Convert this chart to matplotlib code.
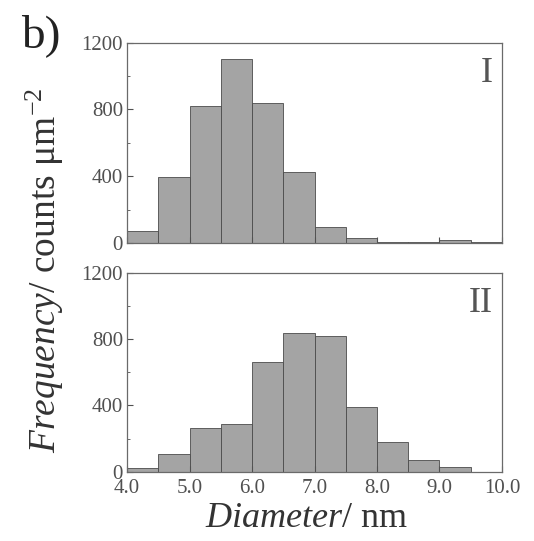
import matplotlib
matplotlib.use("Agg")
import matplotlib.pyplot as plt
import numpy as np
from matplotlib.ticker import MultipleLocator

# histogram bins (nm) and counts per um^2
bin_edges = [4.0, 4.5, 5.0, 5.5, 6.0, 6.5, 7.0, 7.5, 8.0, 8.5, 9.0, 9.5, 10.0]
counts_I = [72, 393, 819, 1100, 839, 428, 97, 27, 8, 3, 15, 5]
counts_II = [20, 107, 262, 289, 661, 835, 820, 392, 179, 69, 27, 0]
panel_labels = ["I", "II"]
x_ticks = [4.0, 5.0, 6.0, 7.0, 8.0, 9.0, 10.0]
y_ticks = [0, 400, 800, 1200]

plt.rcParams["font.family"] = ["Liberation Serif", "DejaVu Serif"]
plt.rcParams["mathtext.fontset"] = "custom"
plt.rcParams["mathtext.rm"] = "Liberation Serif"
plt.rcParams["mathtext.it"] = "Liberation Serif:italic"

fig = plt.figure(figsize=(5.34, 5.41), dpi=100)
ax1 = fig.add_axes([0.238, 0.551, 0.702, 0.370])
ax2 = fig.add_axes([0.238, 0.128, 0.702, 0.368])

left = np.array(bin_edges[:-1])
widths = np.diff(bin_edges)
tick_col = "#505050"

for ax, counts, lab in zip([ax1, ax2], [counts_I, counts_II], panel_labels):
    ax.bar(left, counts, width=widths, align="edge", color="#a4a4a4",
           edgecolor="#4a4a4a", linewidth=0.6)
    ax.set_xlim(4.0, 10.0)
    ax.set_ylim(0, 1200)
    ax.set_yticks(y_ticks)
    ax.yaxis.set_minor_locator(MultipleLocator(200))
    ax.set_xticks(x_ticks)
    ax.tick_params(direction="in", labelsize=15, colors=tick_col,
                   length=4, width=0.8, pad=3)
    ax.tick_params(which="minor", direction="in", length=2.5, width=0.6,
                   colors=tick_col)
    for sp in ax.spines.values():
        sp.set_color("#6a6a6a")
        sp.set_linewidth(0.9)
    ax.text(0.975, 0.93, lab, transform=ax.transAxes, ha="right", va="top",
            fontsize=26, color="#555555")

ax1.tick_params(labelbottom=False)
ax2.set_xticklabels([f"{v:.1f}" for v in x_ticks])
ax2.tick_params(axis="x", pad=5)

fig.text(0.084, 0.50, r"$\mathit{Frequency/}$ counts $\mathrm{\mu m}^{-2}$",
         rotation=90, ha="center", va="center", fontsize=27, color="#333333")
fig.text(0.575, 0.042, r"$\mathit{Diameter/}$ nm", ha="center", va="center",
         fontsize=26, color="#333333")
fig.text(0.04, 0.935, "b)", ha="left", va="center", fontsize=34,
         color="#222222")

fig.savefig("out.png", dpi=100)
